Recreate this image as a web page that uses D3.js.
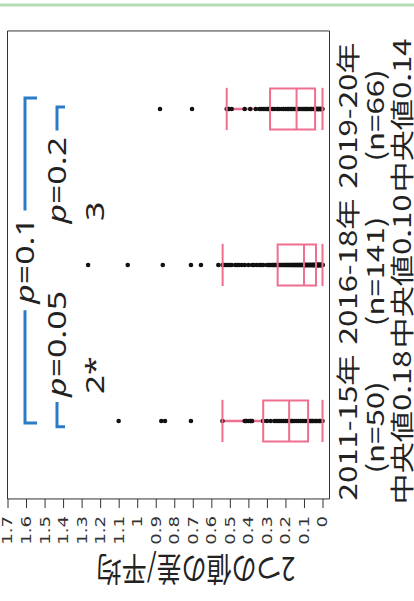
<!DOCTYPE html>
<html>
<head>
<meta charset="utf-8">
<script src="https://cdn.jsdelivr.net/npm/d3@7"></script>
<style>
  html, body { margin: 0; padding: 0; background: #fff; overflow: hidden; }
  svg { display: block; }
</style>
</head>
<body>
<svg id="chart" width="414" height="601"></svg>
<script>
// Relative difference of paired values, by period
const periods = ["2011-15年", "2016-18年", "2019-20年"];

const points2011 = [
  0, 0.01, 0.015, 0.02, 0.03, 0.035, 0.04, 0.05, 0.055, 0.06, 0.065, 0.07,
  0.077, 0.08, 0.09, 0.1, 0.11, 0.12, 0.13, 0.14, 0.15, 0.16, 0.165, 0.17,
  0.18, 0.18, 0.19, 0.2, 0.21, 0.22, 0.23, 0.24, 0.25, 0.26, 0.28, 0.3,
  0.32, 0.32, 0.38, 0.385, 0.39, 0.4, 0.41, 0.415, 0.42, 0.54,
  0.71, 0.85, 0.87, 1.1
];

const points2016 = [
  0, 0, 0.001, 0.002, 0.004, 0.004, 0.005, 0.007, 0.008, 0.009,
  0.01, 0.011, 0.013, 0.013, 0.014, 0.016, 0.017, 0.018, 0.019, 0.02,
  0.021, 0.022, 0.022, 0.024, 0.025, 0.026, 0.027, 0.028, 0.029, 0.03,
  0.031, 0.031, 0.032, 0.033, 0.034, 0.035,
  0.036, 0.038, 0.04, 0.041, 0.043, 0.046, 0.047, 0.049, 0.05, 0.052,
  0.054, 0.055, 0.058, 0.06, 0.061, 0.063, 0.066, 0.068, 0.07, 0.071,
  0.074, 0.076, 0.078, 0.079, 0.082, 0.084, 0.086, 0.088, 0.09, 0.092,
  0.094, 0.095, 0.097, 0.099, 0.1,
  0.102, 0.105, 0.109, 0.112, 0.115, 0.118, 0.122, 0.125, 0.128, 0.131,
  0.135, 0.138, 0.142, 0.146, 0.149, 0.152, 0.156, 0.16, 0.165, 0.168,
  0.172, 0.177, 0.181, 0.186, 0.19, 0.195, 0.2, 0.205, 0.21, 0.216,
  0.222, 0.228, 0.234, 0.239, 0.242,
  0.246, 0.25, 0.255, 0.26, 0.265, 0.27, 0.28, 0.285, 0.29, 0.3,
  0.32, 0.33, 0.34, 0.355, 0.37, 0.38, 0.4,
  0.42, 0.435, 0.45, 0.46, 0.47, 0.49, 0.5, 0.51,
  0.52, 0.53, 0.535, 0.539,
  0.562, 0.656, 0.71, 0.862, 1.051, 1.265
];

const points2019 = [
  0, 0.003, 0.005, 0.008, 0.01, 0.012, 0.015, 0.018, 0.02, 0.022, 0.025, 0.028, 0.03, 0.033, 0.035, 0.038,
  0.04, 0.04,
  0.045, 0.05, 0.058, 0.063, 0.07, 0.078, 0.085, 0.09, 0.098, 0.105, 0.11, 0.12, 0.128, 0.135,
  0.14, 0.14,
  0.145, 0.152, 0.16, 0.168, 0.175, 0.183, 0.19, 0.2, 0.21, 0.22, 0.235, 0.245, 0.26, 0.27,
  0.283, 0.283,
  0.29, 0.295, 0.3, 0.31, 0.32, 0.33, 0.34, 0.36, 0.39, 0.42, 0.49, 0.505, 0.51, 0.517,
  0.704, 0.877
];

const yTicks = [0, 0.1, 0.2, 0.3, 0.4, 0.5, 0.6, 0.7, 0.8, 0.9, 1, 1.1, 1.2, 1.3, 1.4, 1.5, 1.6, 1.7];

// pairwise tests: period indices, p value, footnote mark
const testFrom = [0, 0, 1];
const testTo = [2, 1, 2];
const testP = ["0.1", "0.05", "0.2"];
const testNote = ["", "2*", "3"];

const axisTitle = "2つの値の差/平均";

// ---------------------------------------------------------------
const groups = [points2011, points2016, points2019];
const W = 601;
const ky = 1.3;                       // horizontal stretch of the layout
const svg = d3.select("#chart");

svg.append("rect").attr("width", 414).attr("height", 601).attr("fill", "#fff");
svg.append("line")
  .attr("x1", 0).attr("x2", 414).attr("y1", 5).attr("y2", 5)
  .attr("stroke", "#b3deb3").attr("stroke-width", 3);

// chart is laid out as a vertical box plot and turned a quarter turn
const g = svg.append("g").attr("transform", `matrix(0,${-ky},1,0,0,${W})`);

const plot = { left: 78.5, right: 438.5, top: 7.5, bottom: 329.5 };
const x = d3.scaleBand().domain(periods).range([plot.left, plot.right]);
const y = d3.scaleLinear().domain([0, 1.7]).range([322.5, 7.5]);

function nss(sel) { return sel.attr("vector-effect", "non-scaling-stroke"); }

// frame
nss(g.append("rect")
  .attr("x", plot.left).attr("y", plot.top)
  .attr("width", plot.right - plot.left).attr("height", plot.bottom - plot.top)
  .attr("fill", "none").attr("stroke", "#333").attr("stroke-width", 1));

// value axis
const axis = g.append("g").attr("transform", `translate(${plot.left},0)`)
  .call(d3.axisLeft(y).tickValues(yTicks).tickSize(7).tickPadding(6).tickFormat(d => String(d)));
axis.select(".domain").remove();
nss(axis.selectAll(".tick line")).attr("stroke", "#333").attr("stroke-width", 1);
axis.selectAll(".tick text")
  .attr("font-family", "'DejaVu Sans', sans-serif")
  .attr("font-size", 14).attr("fill", "#333");

g.append("text")
  .attr("transform", `translate(34,196) rotate(-90)`)
  .attr("text-anchor", "middle")
  .attr("font-family", "'Noto Sans CJK JP', sans-serif")
  .attr("font-size", 25).attr("fill", "#222")
  .text(axisTitle);

// box statistics from each period's values
const pink = "#ef6f8e";
const fmt = d3.format(".2f");
const stats = groups.map(v => {
  const s = v.slice().sort(d3.ascending);
  const q1 = d3.quantile(s, 0.25), med = d3.quantile(s, 0.5), q3 = d3.quantile(s, 0.75);
  const iqr = q3 - q1;
  const lo = d3.min(s.filter(d => d >= q1 - 1.5 * iqr));
  const hi = d3.max(s.filter(d => d <= q3 + 1.5 * iqr));
  return { q1, med, q3, lo, hi, n: s.length, values: s };
});

const halfBox = 15.75;
const box = g.selectAll(".box").data(stats).join("g").attr("class", "box")
  .attr("transform", (d, i) => `translate(${x(periods[i]) + x.bandwidth() / 2},0)`);

nss(box.append("line").attr("x1", 0).attr("x2", 0)
  .attr("y1", d => y(d.hi)).attr("y2", d => y(d.q3)))
  .attr("stroke", pink).attr("stroke-width", 2.5);
nss(box.append("line").attr("x1", 0).attr("x2", 0)
  .attr("y1", d => y(d.q1)).attr("y2", d => y(d.lo)))
  .attr("stroke", pink).attr("stroke-width", 2.5);

box.selectAll("ellipse").data(d => d.values).join("ellipse")
  .attr("cx", 0).attr("cy", d => y(d)).attr("rx", 1.7).attr("ry", 2.3)
  .attr("fill", "#111");

nss(box.append("rect")
  .attr("x", -halfBox).attr("width", 2 * halfBox)
  .attr("y", d => y(d.q3)).attr("height", d => y(d.q1) - y(d.q3))
  .attr("fill", "none").attr("stroke", pink).attr("stroke-width", 2));
nss(box.append("line").attr("x1", -halfBox).attr("x2", halfBox)
  .attr("y1", d => y(d.med)).attr("y2", d => y(d.med)))
  .attr("stroke", pink).attr("stroke-width", 2);
["lo", "hi"].forEach(k => {
  nss(box.append("line").attr("x1", -halfBox - 0.5).attr("x2", halfBox + 0.5)
    .attr("y1", d => y(d[k])).attr("y2", d => y(d[k])))
    .attr("stroke", pink).attr("stroke-width", 2);
});

// period labels
const labelShift = -5;
const lab = box.append("text")
  .attr("text-anchor", "middle")
  .attr("font-family", "'Noto Sans CJK JP', sans-serif")
  .attr("font-size", 24).attr("fill", "#222");
lab.append("tspan").attr("x", labelShift).attr("y", 357).text((d, i) => periods[i]);
lab.append("tspan").attr("x", labelShift).attr("y", 384).text(d => `(n=${d.n})`);
lab.append("tspan").attr("x", labelShift).attr("y", 411).text(d => `中央値${fmt(d.med)}`);

// significance brackets
const blue = "#2a7cc5";
const cx = i => x(periods[i]) + x.bandwidth() / 2;
const pFont = "'Noto Sans', sans-serif";

function pLabel(sel, p) {
  sel.attr("font-family", pFont).attr("font-size", 26).attr("fill", "#222");
  sel.append("tspan").attr("font-style", "italic").text("p");
  sel.append("tspan").text("=" + p);
  return sel;
}

testP.forEach((p, k) => {
  const a = testFrom[k], b = testTo[k];
  if (a === 0 && b === 2) {
    // full bracket with the p value in a gap of the line
    const lvl = 25, tick = 12;
    const x0 = cx(a) - 1.5, x1 = cx(b) + 8.5;
    const t = pLabel(g.append("text"), p)
      .attr("x", (x0 + x1) / 2).attr("y", lvl).attr("dy", "0.36em")
      .attr("text-anchor", "middle");
    const len = t.node().getComputedTextLength();
    const mid = (x0 + x1) / 2, gap = len / 2 + 5;
    nss(g.append("path")
      .attr("d", `M${x0},${lvl + tick}V${lvl}H${mid - gap}M${mid + gap},${lvl}H${x1}V${lvl + tick}`)
      .attr("fill", "none").attr("stroke", blue).attr("stroke-width", 3));
  } else {
    const lvl = 57, tick = 8;
    const fromLeft = a === 0;
    const end = fromLeft ? cx(a) - 4.5 : cx(b) + 1.5;
    const stub = fromLeft ? 19 : -18;
    nss(g.append("path")
      .attr("d", `M${end},${lvl + tick}V${lvl}H${end + stub}`)
      .attr("fill", "none").attr("stroke", blue).attr("stroke-width", 3));
    const tx = fromLeft ? end + stub + 4 : end + stub - 5;
    const t = pLabel(g.append("text"), p)
      .attr("x", tx).attr("y", lvl).attr("dy", "0.36em")
      .attr("text-anchor", fromLeft ? "start" : "end");
    const len = t.node().getComputedTextLength();
    const start = fromLeft ? tx : tx - len;
    g.append("text")
      .attr("x", start + 2).attr("y", 104)
      .attr("font-family", pFont).attr("font-size", 26).attr("fill", "#222")
      .text(testNote[k]);
  }
});
</script>
</body>
</html>
